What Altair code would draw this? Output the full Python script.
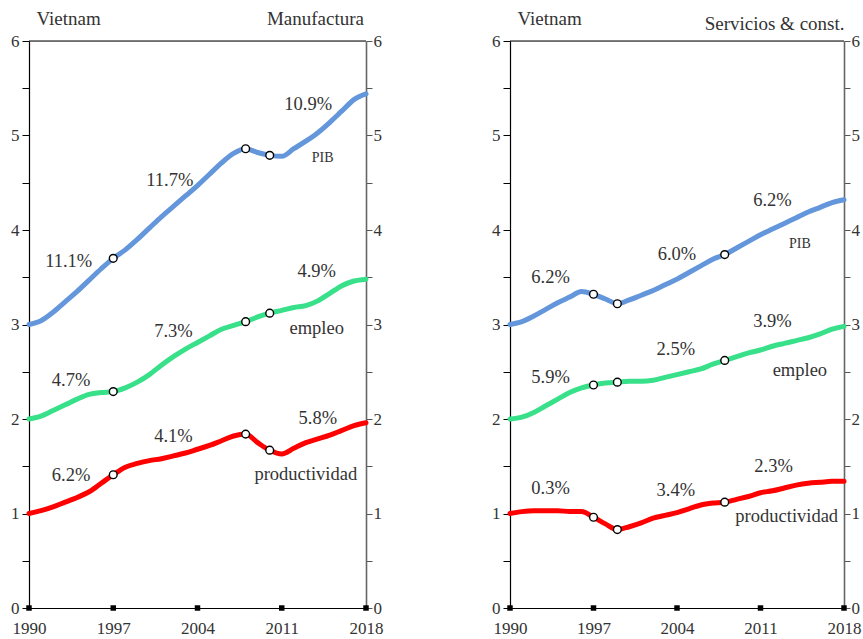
import altair as alt
import pandas as pd

# ---- data -----------------------------------------------------------------
years = list(range(1990, 2019))

# Manufactura (log-index levels, offset per series)
man_pib = [3.00, 3.04, 3.13, 3.24, 3.35, 3.47, 3.59, 3.70, 3.79, 3.90,
           4.02, 4.14, 4.25, 4.36, 4.47, 4.59, 4.71, 4.81, 4.86, 4.82,
           4.79, 4.78, 4.86, 4.94, 5.03, 5.14, 5.26, 5.38, 5.44]
man_emp = [2.00, 2.03, 2.09, 2.15, 2.21, 2.26, 2.28, 2.29, 2.33, 2.39,
           2.47, 2.57, 2.66, 2.74, 2.81, 2.88, 2.95, 2.99, 3.03, 3.08,
           3.12, 3.15, 3.18, 3.20, 3.25, 3.33, 3.41, 3.46, 3.48]
man_prod = [1.00, 1.03, 1.07, 1.12, 1.17, 1.23, 1.32, 1.41, 1.49, 1.53,
            1.56, 1.58, 1.61, 1.64, 1.68, 1.72, 1.77, 1.82, 1.84, 1.75,
            1.67, 1.63, 1.69, 1.75, 1.79, 1.83, 1.88, 1.93, 1.96]

# Servicios & construcción
ser_pib = [3.00, 3.03, 3.09, 3.16, 3.23, 3.29, 3.35, 3.32, 3.27, 3.22,
           3.26, 3.31, 3.36, 3.42, 3.48, 3.55, 3.62, 3.69, 3.74, 3.81,
           3.88, 3.95, 4.01, 4.07, 4.13, 4.19, 4.24, 4.29, 4.32]
ser_emp = [2.00, 2.02, 2.07, 2.14, 2.21, 2.28, 2.33, 2.36, 2.38, 2.39,
           2.40, 2.40, 2.41, 2.44, 2.47, 2.50, 2.53, 2.58, 2.62, 2.66,
           2.70, 2.73, 2.77, 2.80, 2.83, 2.86, 2.90, 2.95, 2.98]
ser_prod = [1.00, 1.02, 1.03, 1.03, 1.03, 1.02, 1.02, 0.96, 0.89, 0.83,
            0.86, 0.90, 0.95, 0.98, 1.01, 1.05, 1.09, 1.11, 1.12, 1.15,
            1.18, 1.22, 1.24, 1.27, 1.30, 1.32, 1.33, 1.34, 1.34]

series = ["PIB", "empleo", "productividad"]
colors = ["#6396da", "#38e08a", "#ff0000"]

# years marked with a circle on every series
man_marks = [1997, 2008, 2010]
ser_marks = [1997, 1999, 2008]

x_ticks = [1990, 1997, 2004, 2011, 2018]
y_ticks = [0, 0.5, 1, 1.5, 2, 2.5, 3, 3.5, 4, 4.5, 5, 5.5, 6]

# growth-rate annotations: text, year position, level position
man_text = ["11.1%", "11.7%", "10.9%", "PIB",
            "4.7%", "7.3%", "4.9%", "empleo",
            "6.2%", "4.1%", "5.8%", "productividad"]
man_tx = [1993.3, 2001.7, 2013.2, 2014.4,
          1993.5, 2002.0, 2013.9, 2013.9,
          1993.5, 2002.0, 2014.0, 2013.0]
man_ty = [3.67, 4.53, 5.33, 4.76,
          2.41, 2.93, 3.57, 2.96,
          1.41, 1.82, 2.01, 1.42]

ser_text = ["6.2%", "6.0%", "6.2%", "PIB",
            "5.9%", "2.5%", "3.9%", "empleo",
            "0.3%", "3.4%", "2.3%", "productividad"]
ser_tx = [1993.4, 2004.0, 2012.0, 2014.3,
          1993.4, 2003.9, 2012.0, 2014.3,
          1993.4, 2003.9, 2012.1, 2013.2]
ser_ty = [3.50, 3.75, 4.32, 3.85,
          2.44, 2.74, 3.04, 2.52,
          1.27, 1.25, 1.50, 0.97]

FONT = "Liberation Serif"
INK = "#333333"
HEIGHT = 567


def long_frame(pib, emp, prod):
    rows = []
    for name, vals in zip(series, [pib, emp, prod]):
        for y, v in zip(years, vals):
            rows.append({"year": y, "serie": name, "value": v})
    return pd.DataFrame(rows)


def panel(df, marks, txt, tx, ty, right_title, w, right_x, right_y):
    xs = alt.Scale(domain=[1990, 2018], nice=False, zero=False)
    ys = alt.Scale(domain=[0, 6], nice=False)
    cs = alt.Scale(domain=series, range=colors)

    label_expr = "datum.value % 1 === 0 ? datum.label : ''"

    lines = alt.Chart(df).mark_line(
        strokeWidth=5, interpolate="monotone", strokeCap="round"
    ).encode(
        x=alt.X("year:Q", scale=xs, axis=alt.Axis(
            values=x_ticks, format="d", ticks=False, labelPadding=12,
            labelFlush=False, domainColor="black", domainWidth=1.2,
            grid=False, title=None, labelFont=FONT, labelFontSize=17,
            labelColor=INK)),
        y=alt.Y("value:Q", scale=ys, axis=alt.Axis(
            values=y_ticks, format=".0f", labelExpr=label_expr, tickSize=7,
            tickColor="black", domainColor="black", domainWidth=1.2,
            labelPadding=3, grid=False, title=None, labelFont=FONT,
            labelFontSize=17, labelColor=INK)),
        color=alt.Color("serie:N", scale=cs, legend=None),
        order="year:Q",
    )

    dots = alt.Chart(df).transform_filter(
        alt.FieldOneOfPredicate(field="year", oneOf=marks)
    ).mark_point(
        filled=True, fill="white", stroke="black", strokeWidth=1.4,
        size=60, opacity=1
    ).encode(
        x=alt.X("year:Q", scale=xs, axis=None),
        y=alt.Y("value:Q", scale=ys, axis=alt.Axis(
            orient="right", values=y_ticks, format=".0f", labelExpr=label_expr,
            tickSize=6, tickColor="#555555", domainColor="#666666",
            domainWidth=1.6, labelPadding=1, grid=False, title=None,
            labelFont=FONT, labelFontSize=17, labelColor=INK)),
    )

    # top border of the frame
    top_rule = alt.Chart(pd.DataFrame({"k": [0]})).mark_rule(
        color="black", strokeWidth=1.2
    ).encode(x=alt.value(0), x2=alt.value(w), y=alt.value(0))

    squares = alt.Chart(pd.DataFrame({"year": x_ticks, "zero": [0] * len(x_ticks)})).mark_point(
        shape="square", filled=True, color="black", size=30, opacity=1
    ).encode(
        x=alt.X("year:Q", scale=xs, axis=None),
        y=alt.Y("zero:Q", scale=ys, axis=None),
    )

    notes = alt.Chart(pd.DataFrame({"t": txt, "x": tx, "y": ty})).mark_text(
        font=FONT, fontSize=18.5, color=INK, baseline="middle", align="center"
    ).encode(
        x=alt.X("x:Q", scale=xs, axis=None),
        y=alt.Y("y:Q", scale=ys, axis=None),
        text="t:N",
        size=alt.condition(alt.datum.t == "PIB", alt.value(14), alt.value(18.5)),
    )

    head_left = alt.Chart(pd.DataFrame({"t": ["Vietnam"]})).mark_text(
        font=FONT, fontSize=19, color=INK, align="left", baseline="middle"
    ).encode(x=alt.value(7.5), y=alt.value(-22), text="t:N")

    head_right = alt.Chart(pd.DataFrame({"t": [right_title]})).mark_text(
        font=FONT, fontSize=19, color=INK, align="right", baseline="middle"
    ).encode(x=alt.value(right_x), y=alt.value(right_y), text="t:N")

    return alt.layer(lines, dots, top_rule, squares, notes, head_left, head_right).resolve_axis(
        x="independent", y="independent"
    ).properties(width=w, height=HEIGHT)


left = panel(long_frame(man_pib, man_emp, man_prod), man_marks,
             man_text, man_tx, man_ty, "Manufactura", 337, 335, -22)
right = panel(long_frame(ser_pib, ser_emp, ser_prod), ser_marks,
              ser_text, ser_tx, ser_ty, "Servicios & const.", 334, 334.5, -17)

chart = alt.hconcat(left, right, spacing=107).properties(
    padding={"left": 10, "top": 9, "right": 0, "bottom": 0}
).configure_view(stroke=None).configure(background="white")

chart.save("out.html", embed_options={"renderer": "svg", "actions": False})
